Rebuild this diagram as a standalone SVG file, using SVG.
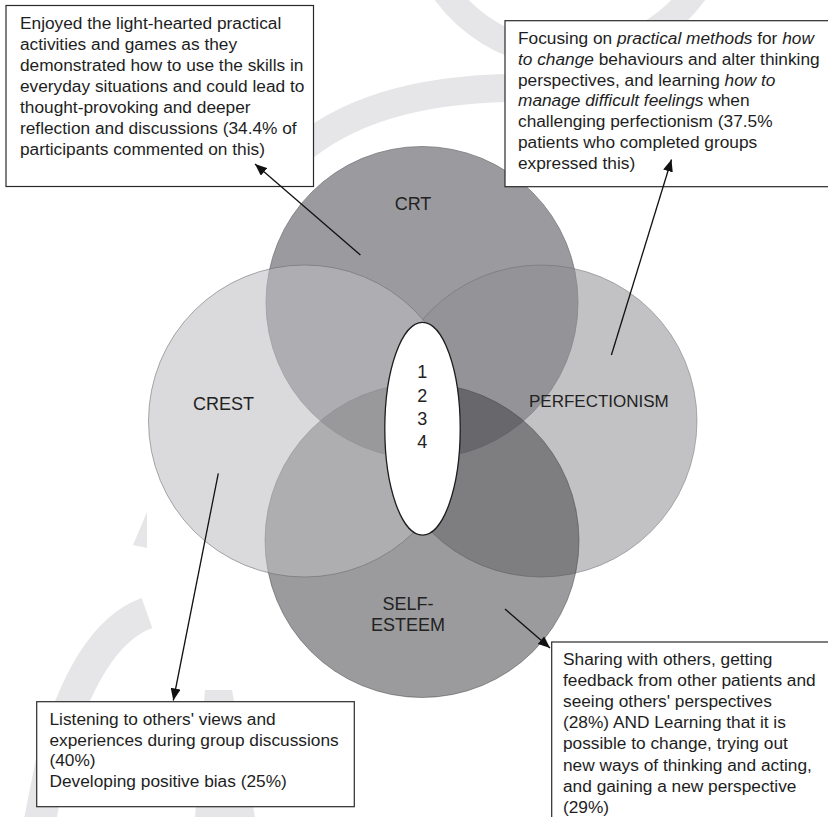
<svg xmlns="http://www.w3.org/2000/svg" width="828" height="817" viewBox="0 0 828 817">
<style>
.t{font-family:"Liberation Sans",Arial,Helvetica,sans-serif;font-size:17.3px;fill:#1e1e1e}
.lbl{font-family:"Liberation Sans",Arial,Helvetica,sans-serif;font-size:18px;fill:#222}
.i{font-style:italic}
.box{fill:#fff;stroke:#2a2a2a;stroke-width:1.2}
.wm{fill:none;stroke:#e6e6e8}
.wmf{fill:#e6e6e8}
.circ{stroke-width:0.8}
#connectors line{stroke:#111;stroke-width:1.3;marker-end:url(#ah)}
</style>
<defs>
<marker id="ah" markerUnits="userSpaceOnUse" markerWidth="12" markerHeight="10" refX="12" refY="5" orient="auto">
<path d="M0,0 L12,5 L0,10 z" fill="#111"/>
</marker>
</defs>
<rect width="828" height="817" fill="#fff"/>
<g id="watermark">
<path class="wm" d="M 437 -20 A 155 155 0 0 0 703 -20" stroke-width="26"/>
<path class="wm" d="M 295 155 Q 370 88 520 88" stroke-width="28"/>
<polygon class="wmf" points="147,512 147,548 133,545"/>
<path class="wm" d="M 147 613 C 105 628 75 680 52 760 L 38 830" stroke-width="32"/>
<polygon class="wmf" points="205,690 232,690 255,817 195,817"/>
</g>
<g id="venn">
<g id="crt"><circle class="circ" cx="422" cy="302.5" r="156" fill="#9b9b9f" stroke="#7a7a7e"/></g>
<g id="perfectionism"><circle class="circ" cx="541" cy="421" r="156" fill="#8e8e92" fill-opacity="0.54" stroke="#6a6a6e" stroke-opacity="0.6"/></g>
<g id="self-esteem"><circle class="circ" cx="422" cy="540.5" r="157" fill="#414145" fill-opacity="0.525" stroke="#3a3a3e" stroke-opacity="0.6"/></g>
<g id="crest"><circle class="circ" cx="304.5" cy="421" r="156" fill="#bdbdc1" fill-opacity="0.56" stroke="#6a6a6e" stroke-opacity="0.7"/></g>
<g id="center">
<ellipse cx="422.5" cy="428.7" rx="37.7" ry="106.4" fill="#fff" stroke="#1e1e1e" stroke-width="1.3"/>
<text class="lbl" x="422.3" y="378" text-anchor="middle">1</text>
<text class="lbl" x="422.3" y="401.5" text-anchor="middle">2</text>
<text class="lbl" x="422.3" y="425" text-anchor="middle">3</text>
<text class="lbl" x="422.3" y="447.5" text-anchor="middle">4</text>
</g>
<text class="lbl" x="413" y="210" text-anchor="middle">CRT</text>
<text class="lbl" x="193" y="409.5">CREST</text>
<text class="lbl" x="529" y="407" style="font-size:17px">PERFECTIONISM</text>
<text class="lbl" x="408" y="610" text-anchor="middle">SELF-</text>
<text class="lbl" x="408" y="630.5" text-anchor="middle">ESTEEM</text>
</g>
<g id="box-crt">
<rect class="box" x="6" y="5.5" width="307.5" height="181"/>
<text class="t" x="20" y="29.3">Enjoyed the light-hearted practical</text>
<text class="t" x="20" y="50.3">activities and games as they</text>
<text class="t" x="20" y="71.3">demonstrated how to use the skills in</text>
<text class="t" x="20" y="92.3">everyday situations and could lead to</text>
<text class="t" x="20" y="113.3">thought-provoking and deeper</text>
<text class="t" x="20" y="134.3">reflection and discussions (34.4% of</text>
<text class="t" x="20" y="155.3">participants commented on this)</text>
</g>
<g id="box-perfectionism">
<rect class="box" x="505" y="20.7" width="340" height="166"/>
<text class="t" x="518" y="44.3">Focusing on <tspan class="i">practical methods</tspan> for <tspan class="i">how</tspan></text>
<text class="t" x="518" y="65"><tspan class="i">to change</tspan> behaviours and alter thinking</text>
<text class="t" x="518" y="85.7">perspectives, and learning <tspan class="i">how to</tspan></text>
<text class="t" x="518" y="106.4"><tspan class="i">manage difficult feelings</tspan> when</text>
<text class="t" x="518" y="127.1">challenging perfectionism (37.5%</text>
<text class="t" x="518" y="147.8">patients who completed groups</text>
<text class="t" x="518" y="168.5">expressed this)</text>
</g>
<g id="box-crest">
<rect class="box" x="36.7" y="701.7" width="317.6" height="105"/>
<text class="t" x="49.5" y="725">Listening to others' views and</text>
<text class="t" x="49.5" y="745.6">experiences during group discussions</text>
<text class="t" x="49.5" y="766.2">(40%)</text>
<text class="t" x="49.5" y="786.8">Developing positive bias (25%)</text>
</g>
<g id="box-self-esteem">
<rect class="box" x="551.7" y="642" width="300" height="200"/>
<text class="t" x="563" y="665">Sharing with others, getting</text>
<text class="t" x="563" y="686.1">feedback from other patients and</text>
<text class="t" x="563" y="707.2">seeing others' perspectives</text>
<text class="t" x="563" y="728.3">(28%) AND Learning that it is</text>
<text class="t" x="563" y="749.4">possible to change, trying out</text>
<text class="t" x="563" y="770.5">new ways of thinking and acting,</text>
<text class="t" x="563" y="791.6">and gaining a new perspective</text>
<text class="t" x="563" y="812.7">(29%)</text>
</g>
<g id="connectors">
<line x1="360.4" y1="255" x2="255" y2="164"/>
<line x1="611.4" y1="355" x2="671.5" y2="159.5"/>
<line x1="218.3" y1="473.3" x2="173.3" y2="700.5"/>
<line x1="505" y1="609" x2="550" y2="648"/>
</g>
</svg>
